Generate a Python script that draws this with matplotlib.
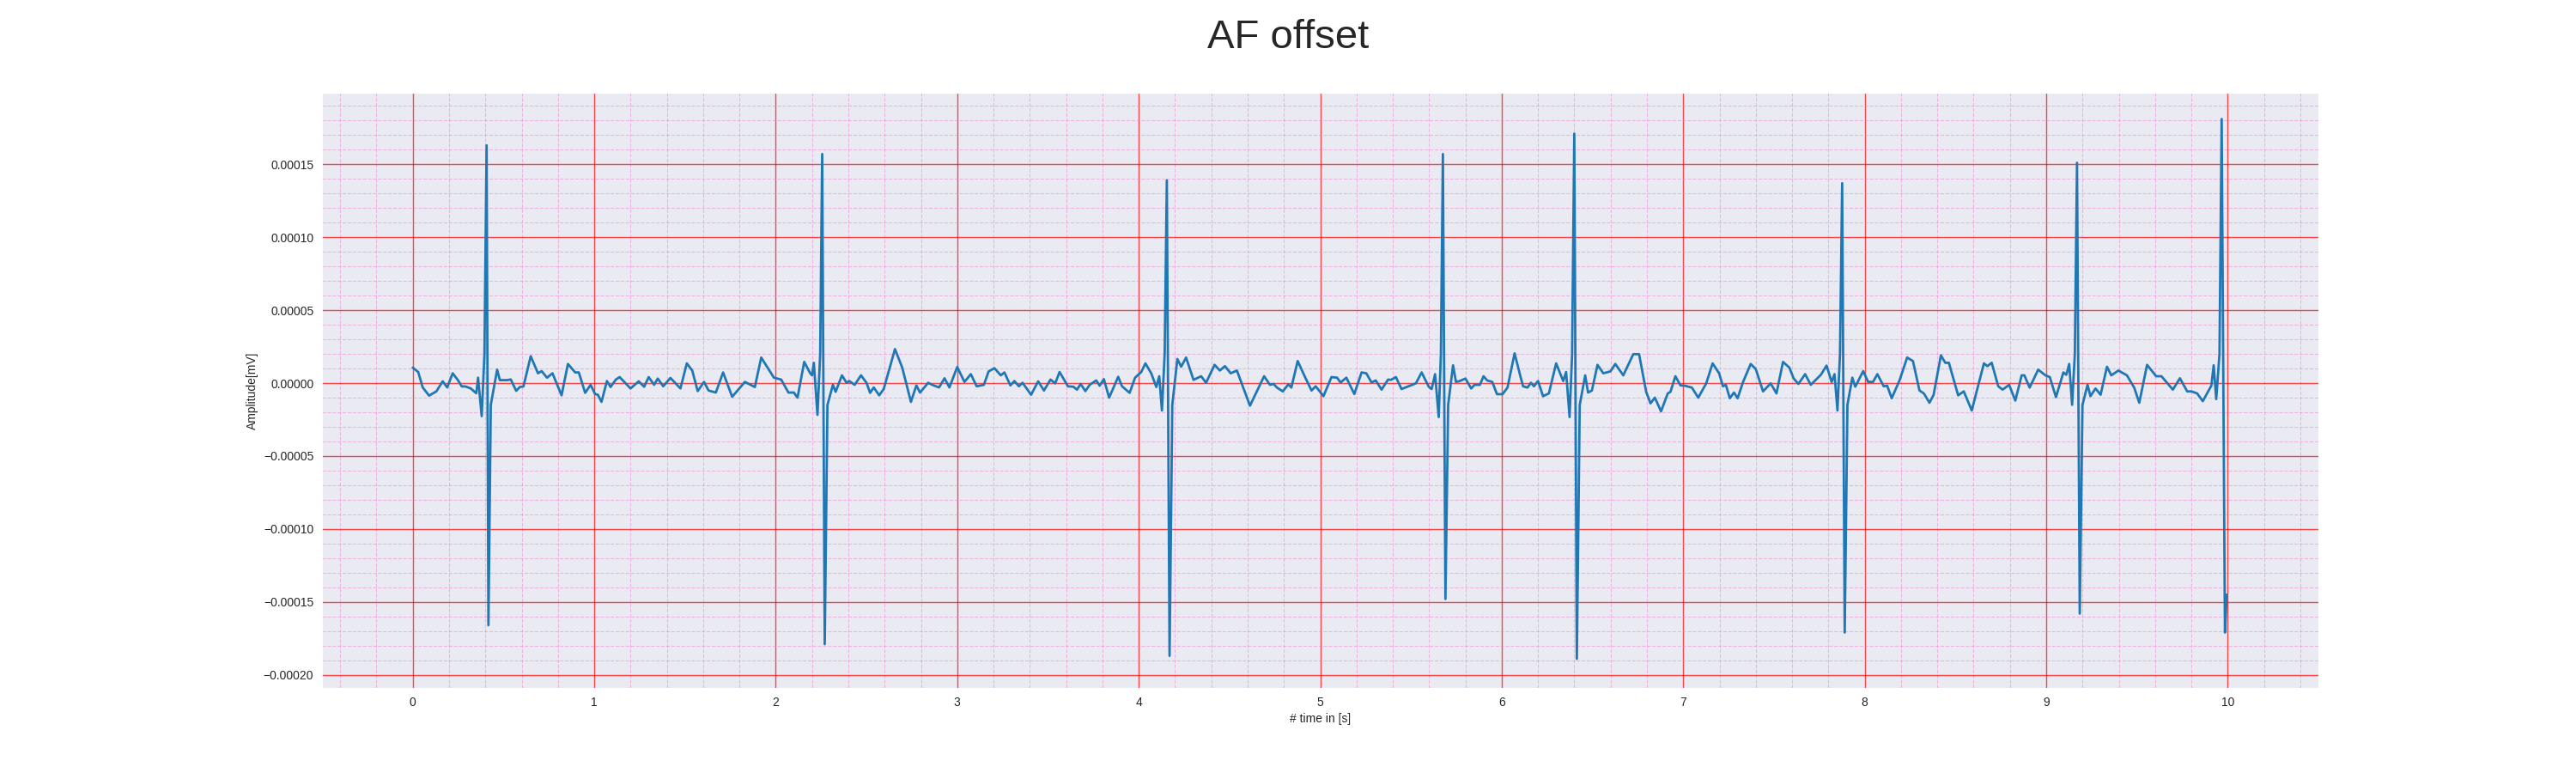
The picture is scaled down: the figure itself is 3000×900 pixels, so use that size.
import matplotlib
matplotlib.use("Agg")
import matplotlib.pyplot as plt
import numpy as np
import seaborn as sns
from matplotlib.ticker import MultipleLocator

# ECG trace: time in s, amplitude in 1e-5 mV
time_s = [
    0.0, 0.03, 0.055, 0.09, 0.13, 0.165, 0.19, 0.22, 0.25, 0.27, 0.29, 0.32, 0.35, 0.36, 0.38,
    0.395, 0.407, 0.417, 0.43,
    0.465, 0.48, 0.52, 0.54, 0.57, 0.59, 0.61, 0.65, 0.69, 0.71, 0.74, 0.77, 0.82, 0.855, 0.895,
    0.915, 0.95, 0.98, 1.005, 1.02, 1.04, 1.07, 1.09, 1.12, 1.14, 1.20, 1.245, 1.275, 1.30, 1.33,
    1.35, 1.38, 1.42, 1.475, 1.51, 1.54, 1.57, 1.605, 1.63, 1.67, 1.71, 1.76, 1.83, 1.885, 1.92,
    1.95, 1.99, 2.03, 2.07, 2.10, 2.12, 2.157, 2.19, 2.20, 2.21, 2.23,
    2.245, 2.256, 2.27, 2.285,
    2.315, 2.33, 2.365, 2.39, 2.405, 2.435, 2.47, 2.5, 2.52, 2.54, 2.57, 2.595, 2.657, 2.697,
    2.745, 2.775, 2.795, 2.84, 2.862, 2.9, 2.93, 2.957, 3.0, 3.04, 3.075, 3.107, 3.147, 3.173,
    3.205, 3.24, 3.26, 3.293, 3.315, 3.34, 3.36, 3.407, 3.446, 3.478, 3.514, 3.54, 3.564, 3.61,
    3.64, 3.66, 3.68, 3.706, 3.73, 3.766, 3.785, 3.808, 3.837, 3.887, 3.908, 3.95, 3.98, 4.014,
    4.037, 4.069, 4.097, 4.113, 4.128,
    4.143, 4.155, 4.17, 4.185,
    4.213, 4.234, 4.261, 4.302, 4.344, 4.371, 4.418, 4.447, 4.475, 4.507, 4.541, 4.613, 4.691,
    4.723, 4.743, 4.762, 4.794, 4.825, 4.841, 4.876, 4.912, 4.952, 4.975, 5.018, 5.062, 5.093,
    5.112, 5.144, 5.188, 5.228, 5.254, 5.283, 5.306, 5.338, 5.374, 5.39, 5.417, 5.448, 5.527,
    5.559, 5.598, 5.614, 5.633, 5.653,
    5.665, 5.676, 5.69, 5.705,
    5.732, 5.748, 5.769, 5.8, 5.832, 5.85, 5.88, 5.9, 5.92, 5.948, 5.974, 6.005, 6.032, 6.071,
    6.103, 6.118, 6.142, 6.161, 6.178, 6.2, 6.228, 6.26, 6.3, 6.339, 6.355, 6.374,
    6.388, 6.40, 6.414, 6.43,
    6.46, 6.476, 6.497, 6.528, 6.56, 6.599, 6.626, 6.67, 6.725, 6.757, 6.796, 6.82, 6.844, 6.878,
    6.915, 6.93, 6.957, 6.985, 7.009, 7.048, 7.083, 7.127, 7.162, 7.198, 7.219, 7.235, 7.257,
    7.28, 7.3, 7.33, 7.372, 7.4, 7.44, 7.482, 7.514, 7.55, 7.585, 7.609, 7.635, 7.672, 7.703,
    7.759, 7.79, 7.818, 7.834, 7.85,
    7.864, 7.876, 7.89, 7.905,
    7.932, 7.948, 7.992, 8.019, 8.046, 8.07, 8.105, 8.124, 8.149, 8.192, 8.234, 8.266, 8.302,
    8.326, 8.357, 8.38, 8.42, 8.444, 8.464, 8.515, 8.546, 8.59, 8.657, 8.676, 8.7, 8.736, 8.76,
    8.796, 8.83, 8.865, 8.88, 8.909, 8.956, 8.996, 9.02, 9.054, 9.095, 9.111, 9.127, 9.143,
    9.158, 9.17, 9.185, 9.20,
    9.228, 9.244, 9.272, 9.3, 9.335, 9.359, 9.398, 9.445, 9.485, 9.513, 9.556, 9.606, 9.635,
    9.698, 9.737, 9.777, 9.8, 9.832, 9.863, 9.91, 9.923, 9.937,
    9.955, 9.967, 9.985, 9.995,
]
amp_e5 = [
    1.06, 0.76, -0.3, -0.86, -0.57, 0.12, -0.3, 0.67, 0.18, -0.23, -0.23, -0.37, -0.7, 0.37, -2.27,
    2.0, 16.3, -16.6, -1.5,
    0.92, 0.2, 0.2, 0.25, -0.53, -0.27, -0.23, 1.84, 0.67, 0.82, 0.37, 0.67, -0.84, 1.31, 0.73,
    0.73, -0.67, -0.12, -0.76, -0.8, -1.29, 0.14, -0.27, 0.25, 0.41, -0.37, 0.12, -0.25, 0.41, -0.12,
    0.31, -0.22, 0.35, -0.37, 1.35, 0.86, -0.55, 0.08, -0.51, -0.65, 0.73, -0.94, 0.08, -0.27, 1.75,
    1.16, 0.37, 0.24, -0.65, -0.65, -1.0, 1.45, 0.67, 0.53, 1.39, -2.18,
    2.0, 15.7, -17.9, -1.5,
    -0.12, -0.6, 0.53, 0.02, 0.14, -0.12, 0.53, 0.02, -0.67, -0.3, -0.84, -0.41, 2.33, 1.06,
    -1.29, -0.16, -0.65, 0.02, -0.12, -0.3, 0.33, -0.3, 1.1, 0.08, 0.61, -0.22, -0.12, 0.8,
    1.02, 0.53, 0.73, -0.16, 0.14, -0.22, 0.02, -0.8, 0.12, -0.51, 0.24, -0.02, 0.76, -0.22,
    -0.25, -0.45, -0.06, -0.55, -0.12, 0.18, -0.18, 0.27, -1.0, 0.43, -0.22, -0.67, 0.37, 0.76,
    1.35, 0.67, -0.27, 0.47, -1.88,
    2.0, 13.9, -18.7, -1.5,
    1.65, 1.12, 1.75, 0.22, 0.47, 0.02, 1.25, 0.86, 1.16, 0.67, 0.86, -1.55, 0.47,
    -0.12, -0.06, -0.31, -0.57, -0.08, -0.31, 1.51, 0.53, -0.51, -0.22, -0.9, 0.41, 0.37,
    0.04, 0.37, -0.75, 0.73, 0.67, 0.04, 0.18, -0.45, 0.24, 0.22, 0.41, -0.41, -0.02,
    0.73, -0.25, -0.41, 0.61, -2.33,
    2.0, 15.7, -14.8, -1.5,
    1.22, 0.08, 0.14, 0.31, -0.37, -0.12, -0.12, 0.47, 0.18, 0.08, -0.76, -0.76, -0.31, 2.04,
    0.47, -0.22, -0.31, 0.02, -0.22, 0.14, -0.9, -0.71, 1.35, 0.14, 0.76, -2.33,
    2.0, 17.1, -18.9, -1.5,
    0.53, -0.65, -0.51, 1.25, 0.67, 0.8, 1.31, 0.53, 1.98, 1.98, -0.6, -1.39, -1.0, -1.94,
    -0.71, -0.6, 0.47, -0.16, -0.18, -0.31, -1.0, -0.02, 1.35, 0.67, -0.22, -0.12, -1.04,
    -0.65, -1.04, 0.08, 1.31, 0.96, -0.57, -0.02, -0.71, 1.45, 1.06, 0.31, -0.06, 0.61, -0.12,
    0.57, 1.2, 0.08, 0.61, -1.88,
    2.0, 13.7, -17.1, -1.5,
    0.37, -0.25, 0.82, 0.08, 0.08, 0.61, -0.22, -0.18, -1.04, 0.18, 1.75, 1.51, -0.51,
    -0.71, -1.35, -0.8, 1.9, 1.39, 1.39, -0.84, -0.57, -1.88, 1.35, 1.16, 1.39, -0.22, -0.45,
    -0.12, -1.2, 0.53, 0.53, -0.31, 0.92, 0.53, 0.41, -0.96, 0.73, 0.57, 1.31, -1.49,
    2.0, 15.1, -15.8, -1.5,
    -0.12, -0.9, -0.37, -0.8, 1.12, 0.53, 0.86, 0.53, -0.31, -1.35, 1.25, 0.47, 0.47,
    -0.45, 0.33, -0.57, -0.57, -0.71, -1.24, -0.18, 1.22, -1.1,
    2.0, 18.1, -17.1, -14.5,
]

t = np.array(time_s)
amp = np.array(amp_e5) * 1e-5

sns.set_style("darkgrid")
plt.rcParams['font.family'] = ['Liberation Sans', 'DejaVu Sans']

fig, ax = plt.subplots(figsize=(30, 9), dpi=100)
ax.plot(t, amp, color='#1f77b4', linewidth=2)

ax.set_xlim(-0.5, 10.5)
ax.set_ylim(-0.000209, 0.000199)
ax.xaxis.set_major_locator(MultipleLocator(1))
ax.xaxis.set_minor_locator(MultipleLocator(0.2))
ax.yaxis.set_major_locator(MultipleLocator(0.00005))
ax.yaxis.set_minor_locator(MultipleLocator(0.00001))
ax.grid(which='major', color='red', linewidth=1, alpha=0.7)
ax.grid(which='minor', color='#f080d0', linestyle='--', linewidth=0.8, alpha=0.5)

ax.tick_params(labelsize=10)
ax.set_xlabel('# time in [s]', fontsize=10)
ax.set_ylabel('Amplitude[mV]', fontsize=10)
fig.suptitle('AF offset', fontsize=34, y=0.975)

plt.savefig('out.png')
